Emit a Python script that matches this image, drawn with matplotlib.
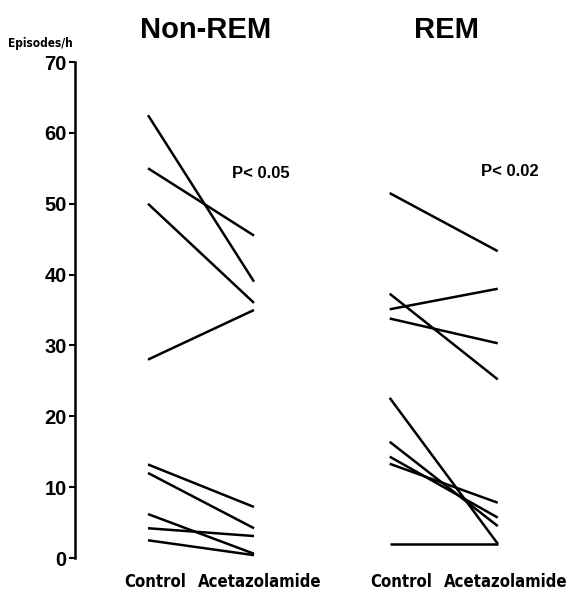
import matplotlib
matplotlib.use("Agg")
import matplotlib.pyplot as plt

# Data (Episodes/h)
nonrem_control = [62.5, 55.0, 50.0, 28.0, 13.2, 12.0, 6.2, 4.2, 2.5]
nonrem_acet    = [39.0, 45.5, 36.0, 35.0, 7.2, 4.2, 0.6, 3.1, 0.4]
rem_control    = [51.5, 35.1, 33.8, 37.3, 22.6, 16.4, 14.3, 13.3, 2.0]
rem_acet       = [43.3, 38.0, 30.3, 25.2, 2.0, 4.5, 5.7, 7.8, 2.0]
yticks = [0, 10, 20, 30, 40, 50, 60, 70]
panel_titles = ["Non-REM", "REM"]
p_labels = ["P< 0.05", "P< 0.02"]
cond_labels = ["Control", "Acetazolamide"]

x_nonrem = (1.0, 2.0)
x_rem = (3.28, 4.30)

plt.rcParams['font.family'] = ['Liberation Sans', 'DejaVu Sans']

fig = plt.figure(figsize=(5.7, 5.92), dpi=100)
ax = fig.add_axes([75/570, 1-558/592, 1-75/570, (558-62)/592])
ax.set_xlim(1 + (75-148)/106, 1 + (570-148)/106)
ax.set_ylim(0, 70)

for c, a in zip(nonrem_control, nonrem_acet):
    ax.plot(x_nonrem, [c, a], color='black', lw=1.8, solid_capstyle='butt')
for c, a in zip(rem_control, rem_acet):
    ax.plot(x_rem, [c, a], color='black', lw=1.8, solid_capstyle='butt')

for s in ['top', 'right', 'bottom']:
    ax.spines[s].set_visible(False)
ax.spines['left'].set_linewidth(1.8)
ax.set_xticks([])
ax.set_yticks(yticks)
ax.set_yticklabels([str(t) for t in yticks], fontsize=14.5, fontweight='bold')
ax.tick_params(axis='y', direction='out', length=4, width=1.5, pad=2)

cond_font = dict(family=['DejaVu Sans', 'Liberation Sans'], fontstretch='condensed',
                 fontweight='bold')
fig.text(8/570, 1-43/592, "Episodes/h", fontsize=8.5, ha='left', va='center', **cond_font)

title_x = [206, 447]
for t, xp in zip(panel_titles, title_x):
    fig.text(xp/570, 1-30/592, t, fontsize=21, fontweight='bold', ha='center', va='center')

p_pos = [(261, 174), (510, 171)]
for t, (xp, yp) in zip(p_labels, p_pos):
    fig.text(xp/570, 1-yp/592, t, fontsize=12, fontweight='bold', ha='center', va='center')

lab_pos = [(155, 582), (260, 582), (401, 582), (506, 582)]
for t, (xp, yp) in zip(cond_labels * 2, lab_pos):
    fig.text(xp/570, 1-yp/592, t, fontsize=12, ha='center', va='center', **cond_font)

fig.savefig("out.png", dpi=100)
